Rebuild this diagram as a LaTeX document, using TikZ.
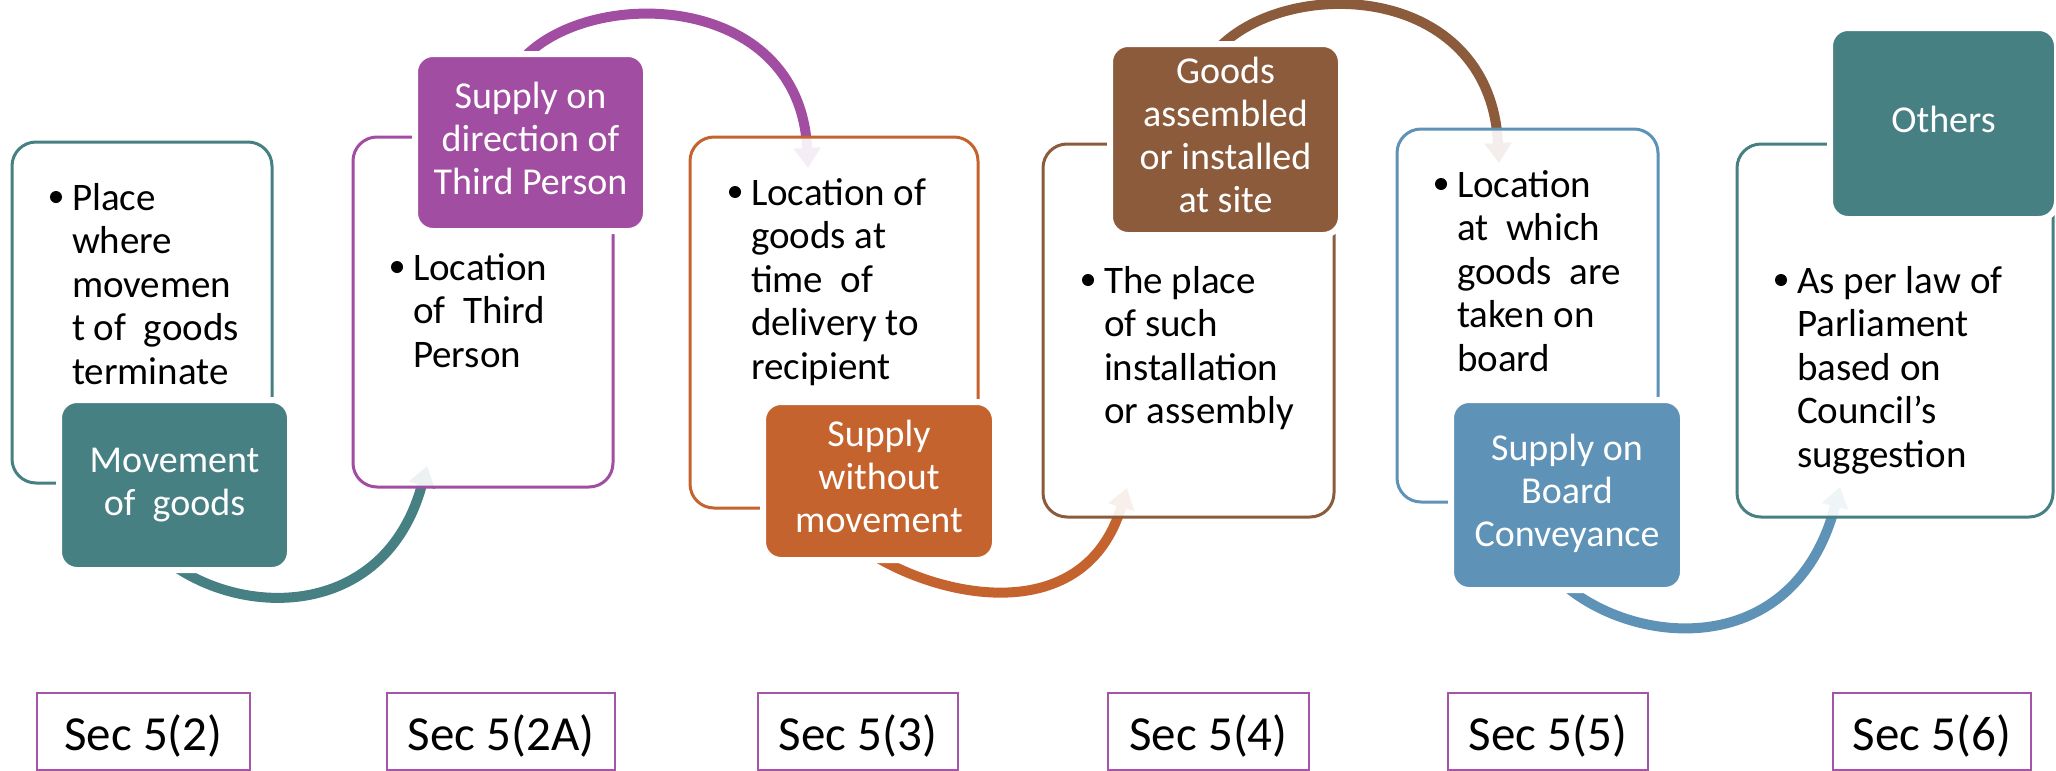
\documentclass[tikz,border=0pt]{standalone}
\usepackage{fontspec}
\setmainfont{Carlito}
\usetikzlibrary{arrows.meta,backgrounds}
\definecolor{cteal}{RGB}{70,128,131}
\definecolor{cpurple}{RGB}{161,77,161}
\definecolor{corange}{RGB}{197,99,46}
\definecolor{cbrown}{RGB}{139,91,60}
\definecolor{cblue}{RGB}{94,146,182}
\definecolor{csec}{RGB}{165,85,168}
\begin{document}
\begin{tikzpicture}[x=1pt,y=-1pt,
  outbox/.style={draw=#1, line width=3pt, fill=white, fill opacity=0.9, rounded corners=24pt, inner sep=0pt, outer sep=0pt},
  fillbox/.style={fill=#1, draw=white, line width=6pt, rounded corners=18pt, inner sep=0pt, outer sep=0pt,
    text=white, align=center, font=\fontsize{38}{43}\selectfont},
  btext/.style={anchor=north west, align=left, inner sep=0pt, outer sep=0pt, font=\fontsize{39}{43.5}\selectfont},
  dot/.style={circle, fill=black, minimum size=12pt, inner sep=0pt},
  secbox/.style={draw=csec, line width=2.5pt, minimum height=77pt, inner sep=0pt, outer sep=0pt},
  sectext/.style={anchor=base, inner sep=0pt, font=\fontsize{49}{58}\selectfont},
  flow/.style={draw=#1, line width=10pt, -{Triangle[width=26pt,length=20pt]}}
]
\useasboundingbox (0,0) rectangle (2056,771);

% outline boxes
\node[outbox=cteal,   minimum width=260pt, minimum height=341pt] (o1) at (142,312.5) {};
\node[outbox=cpurple, minimum width=260pt, minimum height=350pt] (o2) at (483,312) {};
\node[outbox=corange, minimum width=288pt, minimum height=371pt] (o3) at (834,322.5) {};
\node[outbox=cbrown,  minimum width=291pt, minimum height=373pt] (o4) at (1188.5,330.5) {};
\node[outbox=cblue,   minimum width=261pt, minimum height=373pt] (o5) at (1527.5,315.5) {};
\node[outbox=cteal,   minimum width=316pt, minimum height=373pt] (o6) at (1895,330.5) {};

% filled boxes
\node[fillbox=cteal,   minimum width=231pt, minimum height=170pt] (f1) at (174.5,485)
  {\strut Movement\\\strut of~~goods};
\node[fillbox=cpurple, minimum width=231pt, minimum height=177pt] (f2) at (530.5,142.5)
  {\strut Supply on\\\strut direction of\\\strut Third Person};
\node[fillbox=corange, minimum width=232pt, minimum height=158pt] (f3) at (879,481)
  {\strut Supply\\\strut without\\\strut movement};
\node[fillbox=cbrown,  minimum width=231pt, minimum height=191pt] (f4) at (1225.5,139.5)
  {\strut Goods\\\strut assembled\\\strut or installed\\\strut at site};
\node[fillbox=cblue,   minimum width=232pt, minimum height=190pt] (f5) at (1567,495)
  {\strut Supply on\\\strut Board\\\strut Conveyance};
\node[fillbox=cteal,   minimum width=227pt, minimum height=191pt] (f6) at (1943.5,123.5)
  {\strut Others};

% connectors (under the boxes)
\begin{scope}[on background layer]
\draw[flow=cteal] ([xshift=-14.5pt,yshift=15pt]f1.south) .. controls (235,620) and (385,622) .. ([xshift=74pt,yshift=21pt]o2.south west);
\draw[flow=cpurple] ([xshift=-10.5pt,yshift=-8pt]f2.north) .. controls (585,-15) and (800,-10) .. ([xshift=118pt,yshift=-31pt]o3.north west);
\draw[flow=corange] ([xshift=-14pt,yshift=10pt]f3.south) .. controls (940,600) and (1085,628) .. ([xshift=84pt,yshift=29pt]o4.south west);
\draw[flow=cbrown] ([xshift=-10.5pt,yshift=-8pt]f4.north) .. controls (1282,-25) and (1490,-20) .. ([xshift=102pt,yshift=-34pt]o5.north west);
\draw[flow=cblue] ([xshift=-5pt,yshift=7pt]f5.south) .. controls (1635,648) and (1795,660) .. ([xshift=103pt,yshift=30pt]o6.south west);
\end{scope}

% bullets and texts
\node[dot] (d1) at (56,197) {};
\node[btext] (t1) at (72,179.55) {\strut Place\\where\\movemen\\t of~~goods\\terminate};
\node[dot] (d2) at (397,267) {};
\node[btext] (t2) at (413,249.55) {\strut Location\\of~~Third\\Person};
\node[dot] (d3) at (735,192) {};
\node[btext] (t3) at (751,174.55) {\strut Location of\\goods at\\time~~of\\delivery to\\recipient};
\node[dot] (d4) at (1088,280) {};
\node[btext] (t4) at (1104,262.55) {\strut The place\\of such\\installation\\or assembly};
\node[dot] (d5) at (1441,184) {};
\node[btext] (t5) at (1457,166.55) {\strut Location\\at~~which\\goods~~are\\taken on\\board};
\node[dot] (d6) at (1781,280) {};
\node[btext] (t6) at (1797,262.55) {\strut As per law of\\Parliament\\based on\\Council’s\\suggestion};

% section boxes
\node[secbox, minimum width=213pt] (s1) at (143.5,731.5) {};
\node[secbox, minimum width=228pt] (s2) at (501,731.5) {};
\node[secbox, minimum width=200pt] (s3) at (858,731.5) {};
\node[secbox, minimum width=201pt] (s4) at (1208.5,731.5) {};
\node[secbox, minimum width=200pt] (s5) at (1548,731.5) {};
\node[secbox, minimum width=198pt] (s6) at (1932,731.5) {};
\node[sectext] (l1) at (143.5,750) {Sec 5(2)};
\node[sectext] (l2) at (501,750) {Sec 5(2A)};
\node[sectext] (l3) at (858,750) {Sec 5(3)};
\node[sectext] (l4) at (1208.5,750) {Sec 5(4)};
\node[sectext] (l5) at (1548,750) {Sec 5(5)};
\node[sectext] (l6) at (1932,750) {Sec 5(6)};
\end{tikzpicture}
\end{document}
